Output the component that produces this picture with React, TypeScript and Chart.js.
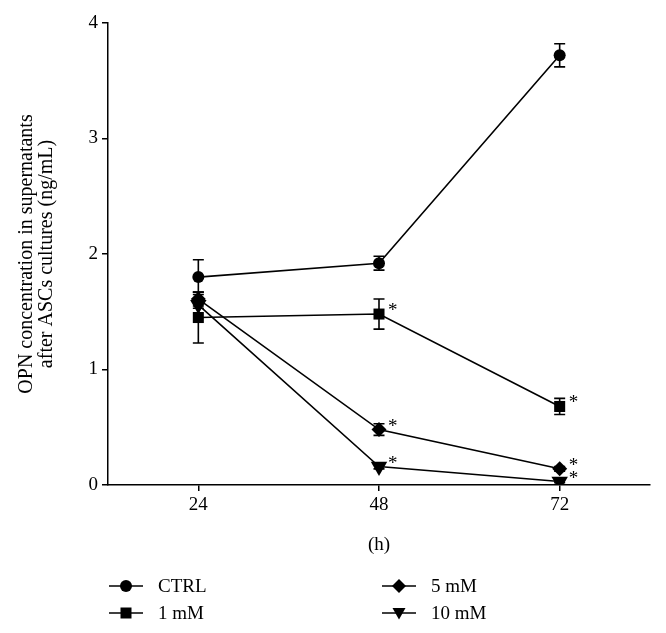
import React, { useEffect, useRef } from 'react';
import { Chart, registerables } from 'chart.js';

Chart.register(...registerables);

// ---- data ----
const hours = [24, 48, 72];
const xTickValues = [24, 48, 72];
const yTickValues = [0, 1, 2, 3, 4];
const seriesNames = ['CTRL', '1 mM', '5 mM', '10 mM'];

const ctrlMeans = [1.80, 1.92, 3.72];
const ctrlErrors = [0.15, 0.06, 0.10];
const ctrlStars = [false, false, false];

const mM1Means = [1.45, 1.48, 0.68];
const mM1Errors = [0.22, 0.13, 0.07];
const mM1Stars = [false, true, true];

const mM5Means = [1.61, 0.48, 0.14];
const mM5Errors = [0.06, 0.05, 0.02];
const mM5Stars = [false, true, true];

const mM10Means = [1.56, 0.16, 0.03];
const mM10Errors = [0.03, 0.02, 0.01];
const mM10Stars = [false, true, true];

const yTitleLines = ['OPN concentration in supernatants', 'after ASCs cultures (ng/mL)'];
const xTitle = '(h)';

const FONT = '"Liberation Serif", "Times New Roman", serif';

type Style = 'circle' | 'rect' | 'rectRot' | 'triangleDown';

function drawMarker(ctx: CanvasRenderingContext2D, style: Style, x: number, y: number) {
  ctx.beginPath();
  if (style === 'circle') {
    ctx.arc(x, y, 6, 0, Math.PI * 2);
  } else if (style === 'rect') {
    ctx.rect(x - 5.5, y - 5.5, 11, 11);
  } else if (style === 'rectRot') {
    ctx.moveTo(x, y - 7);
    ctx.lineTo(x + 7, y);
    ctx.lineTo(x, y + 7);
    ctx.lineTo(x - 7, y);
    ctx.closePath();
  } else {
    ctx.moveTo(x - 6.5, y - 5);
    ctx.lineTo(x + 6.5, y - 5);
    ctx.lineTo(x, y + 6.5);
    ctx.closePath();
  }
  ctx.fillStyle = '#000';
  ctx.fill();
}

const errorBarPlugin = {
  id: 'errorBars',
  beforeDatasetsDraw(chart: any) {
    const ctx = chart.ctx;
    const ys = chart.scales.y;
    ctx.save();
    ctx.strokeStyle = '#000';
    ctx.lineWidth = 1.6;
    chart.data.datasets.forEach((ds: any, di: number) => {
      const meta = chart.getDatasetMeta(di);
      ds.errors.forEach((e: number, i: number) => {
        const pt = meta.data[i];
        const m = ds.data[i].y;
        const x = pt.x;
        const yTop = ys.getPixelForValue(m + e);
        const yBot = ys.getPixelForValue(m - e);
        ctx.beginPath();
        ctx.moveTo(x, yTop);
        ctx.lineTo(x, yBot);
        ctx.moveTo(x - 5.5, yTop);
        ctx.lineTo(x + 5.5, yTop);
        ctx.moveTo(x - 5.5, yBot);
        ctx.lineTo(x + 5.5, yBot);
        ctx.stroke();
      });
    });
    ctx.restore();
  },
};

const starPlugin = {
  id: 'stars',
  afterDatasetsDraw(chart: any) {
    const ctx = chart.ctx;
    ctx.save();
    ctx.fillStyle = '#000';
    ctx.font = `19px ${FONT}`;
    ctx.textAlign = 'left';
    ctx.textBaseline = 'alphabetic';
    chart.data.datasets.forEach((ds: any, di: number) => {
      const meta = chart.getDatasetMeta(di);
      ds.stars.forEach((s: boolean, i: number) => {
        if (!s) return;
        const pt = meta.data[i];
        ctx.fillText('*', pt.x + 9, pt.y + 2);
      });
    });
    ctx.restore();
  },
};

const legendPlugin = {
  id: 'customLegend',
  afterDraw(chart: any) {
    const ctx = chart.ctx;
    const cols = [109, 382];
    const rows = [586, 613];
    ctx.save();
    ctx.font = `19px ${FONT}`;
    ctx.textBaseline = 'middle';
    ctx.textAlign = 'left';
    chart.data.datasets.forEach((ds: any, k: number) => {
      const x0 = cols[Math.floor(k / 2)];
      const y0 = rows[k % 2];
      ctx.strokeStyle = '#000';
      ctx.lineWidth = 1.6;
      ctx.beginPath();
      ctx.moveTo(x0, y0);
      ctx.lineTo(x0 + 34, y0);
      ctx.stroke();
      drawMarker(ctx, ds.markerStyle, x0 + 17, y0);
      ctx.fillStyle = '#000';
      ctx.fillText(ds.label, x0 + 49, y0 + 1);
    });
    ctx.restore();
  },
};

function makeDataset(label: string, means: number[], errors: number[], stars: boolean[], style: Style) {
  const pointStyle = style === 'triangleDown' ? 'triangle' : style;
  const radius = style === 'circle' ? 6 : style === 'rect' ? 7.8 : style === 'rectRot' ? 7.5 : 9.5;
  return {
    label,
    data: hours.map((h, i) => ({ x: h, y: means[i] })),
    errors,
    stars,
    markerStyle: style,
    borderColor: '#000',
    backgroundColor: '#000',
    borderWidth: 1.6,
    pointStyle,
    pointRotation: style === 'triangleDown' ? 180 : 0,
    pointRadius: radius,
    pointBorderWidth: 0,
    pointBackgroundColor: '#000',
    tension: 0,
    fill: false,
  };
}

export default function App() {
  const ref = useRef<HTMLCanvasElement | null>(null);
  useEffect(() => {
    if (!ref.current) return;
    const chart = new Chart(ref.current, {
      type: 'line',
      data: {
        datasets: [
          makeDataset(seriesNames[0], ctrlMeans, ctrlErrors, ctrlStars, 'circle'),
          makeDataset(seriesNames[1], mM1Means, mM1Errors, mM1Stars, 'rect'),
          makeDataset(seriesNames[2], mM5Means, mM5Errors, mM5Stars, 'rectRot'),
          makeDataset(seriesNames[3], mM10Means, mM10Errors, mM10Stars, 'triangleDown'),
        ] as any,
      },
      options: {
        responsive: false,
        animation: false,
        layout: { padding: { left: 0, top: 23, right: 16, bottom: 0 } },
        plugins: {
          legend: { display: false },
          tooltip: { enabled: false },
        },
        scales: {
          x: {
            type: 'linear',
            min: 12,
            max: 84,
            afterBuildTicks: (scale: any) => {
              scale.ticks = xTickValues.map((v) => ({ value: v }));
            },
            afterFit: (scale: any) => {
              scale.height = 148;
            },
            grid: { display: true, drawOnChartArea: false, drawTicks: true, tickLength: 6, color: '#000', lineWidth: 1.5 },
            border: { display: true, color: '#000', width: 1.5 },
            ticks: { color: '#000', font: { family: FONT, size: 19 }, padding: 3, maxRotation: 0 },
            title: {
              display: true,
              text: xTitle,
              color: '#000',
              font: { family: FONT, size: 19, lineHeight: 1.2 },
              padding: { top: 0, bottom: 77 },
            },
          },
          y: {
            type: 'linear',
            min: 0,
            max: 4,
            afterBuildTicks: (scale: any) => {
              scale.ticks = yTickValues.map((v) => ({ value: v }));
            },
            afterFit: (scale: any) => {
              scale.width = 108;
            },
            grid: { display: true, drawOnChartArea: false, drawTicks: true, tickLength: 6, color: '#000', lineWidth: 1.5 },
            border: { display: true, color: '#000', width: 1.5 },
            ticks: { color: '#000', font: { family: FONT, size: 19 }, padding: 4 },
            title: {
              display: true,
              text: yTitleLines,
              color: '#000',
              font: { family: FONT, size: 20, lineHeight: 1.0 },
              padding: { top: 17, bottom: 0 },
            },
          },
        },
      } as any,
      plugins: [errorBarPlugin, starPlugin, legendPlugin],
    });
    return () => chart.destroy();
  }, []);
  return (
    <div style={{ position: 'absolute', left: 0, top: 0, width: 666, height: 633, background: '#fff' }}>
      <canvas ref={ref} width={666} height={633} style={{ display: 'block' }} />
    </div>
  );
}
